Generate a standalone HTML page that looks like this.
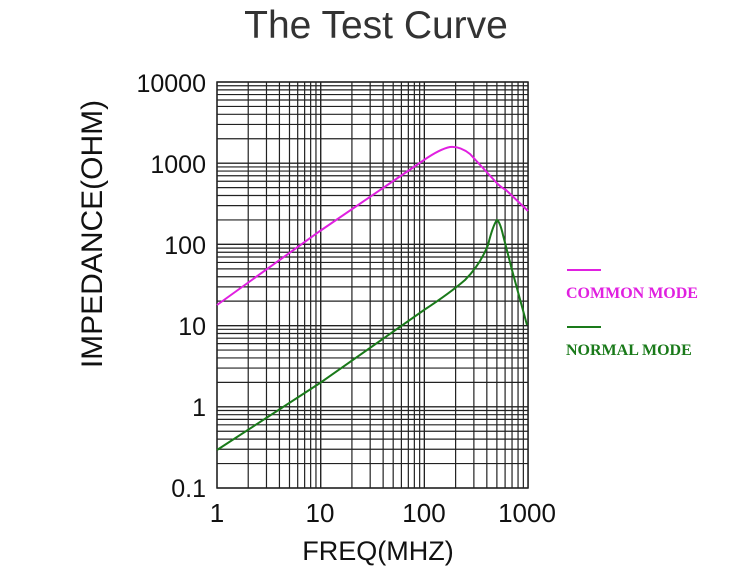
<!DOCTYPE html>
<html><head><style>
body{margin:0;background:#fff;width:750px;height:574px;overflow:hidden}
svg{display:block}
text{font-family:"Liberation Sans",sans-serif}
</style></head><body>
<svg width="750" height="574" xmlns="http://www.w3.org/2000/svg">
<text x="376" y="38" font-size="39" text-anchor="middle" fill="#333">The Test Curve</text>
<g id="grid" stroke="#222" stroke-width="1.2" fill="none"></g>
<rect x="217" y="82" width="311" height="406" fill="none" stroke="#222" stroke-width="1.5"/>
<g font-size="25" fill="#111" text-anchor="end">
<text x="206" y="92">10000</text>
<text x="206" y="173">1000</text>
<text x="206" y="254">100</text>
<text x="206" y="335">10</text>
<text x="206" y="416">1</text>
<text x="206" y="497">0.1</text>
</g>
<g font-size="26" fill="#111" text-anchor="middle">
<text x="217" y="522">1</text>
<text x="320" y="522">10</text>
<text x="424" y="522">100</text>
<text x="527" y="522">1000</text>
</g>
<text x="378" y="560" font-size="27" text-anchor="middle" fill="#111">FREQ(MHZ)</text>
<text transform="translate(102,234) rotate(-90)" font-size="30" text-anchor="middle" fill="#111">IMPEDANCE(OHM)</text>
<path d="M217,305 L320,231 L424,160 Q440,149 450,147 Q460,146 470,154 L494,180 Q500,187 506,190 L528,211" fill="none" stroke="#e020e0" stroke-width="2"/>
<path d="M217,450 L320,383 L424,310 Q450,293 465,280 Q480,265 488,245 Q493,225 497,220 Q500,222 503,235 L512,270 L527,325" fill="none" stroke="#1a7a1a" stroke-width="2"/>
<line x1="567" y1="270" x2="601" y2="270" stroke="#e020e0" stroke-width="2"/>
<text x="566" y="298" font-size="16" font-weight="bold" fill="#e020e0" style="font-family:'Liberation Serif',serif">COMMON MODE</text>
<line x1="567" y1="327" x2="601" y2="327" stroke="#1a7a1a" stroke-width="2"/>
<text x="566" y="355" font-size="16" font-weight="bold" fill="#1a7a1a" style="font-family:'Liberation Serif',serif">NORMAL MODE</text>
</svg>
<script>
var g=document.getElementById('grid'),s='';
for(var d=0;d<3;d++)for(var m=1;m<=10;m++){var x=217+103.7*(d+Math.log10(m));s+='<line x1="'+x+'" y1="82" x2="'+x+'" y2="488"/>';}
for(var d=0;d<5;d++)for(var m=1;m<=10;m++){var y=488-81.2*(d+Math.log10(m));s+='<line x1="217" y1="'+y+'" x2="528" y2="'+y+'"/>';}
g.innerHTML=s;
</script>
</body></html>
